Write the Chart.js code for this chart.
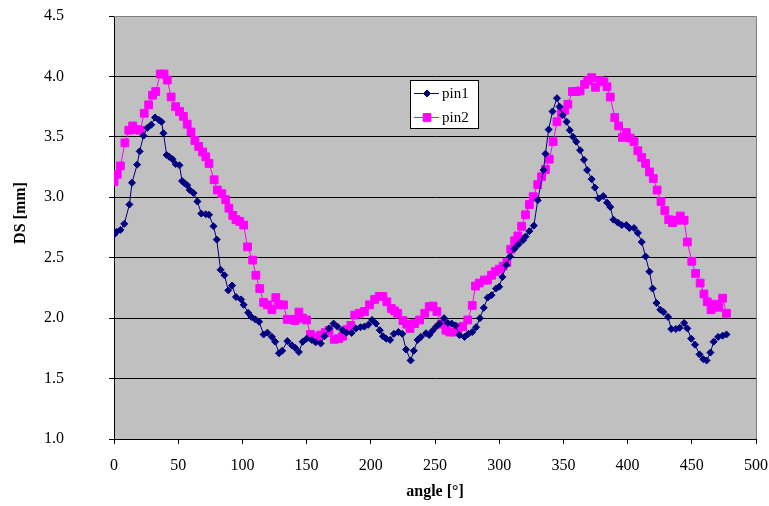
<!DOCTYPE html>
<html>
<head>
<meta charset="utf-8">
<script src="https://cdn.jsdelivr.net/npm/chart.js@4.4.1/dist/chart.umd.min.js"></script>
<style>
  html, body { margin: 0; padding: 0; background: #ffffff; }
  #wrap { width: 769px; height: 506px; position: relative; }
</style>
</head>
<body>
<div id="wrap"><canvas id="chart" width="769" height="506"></canvas></div>
<script>
// Measured displacement per angle, two pins
const angles1 = [0, 2, 5, 8, 12, 14, 18, 20, 23, 26, 29, 32, 35, 37, 38.5, 41, 43, 45.5, 48, 51,
  53, 55, 57, 59, 62, 65, 68, 71.5, 74, 77.5, 80, 83, 86, 89, 92, 95, 99, 101, 104.5, 107,
  110, 113, 116.5, 119.5, 123, 125.5, 128.5, 131, 135, 138.5, 141, 144, 147, 150, 154, 157, 161, 164, 167.5, 171,
  174, 178, 181, 185, 188.5, 192, 195, 198, 201, 204, 207, 209.5, 212, 215, 218, 221.5, 224.5, 227.5, 231, 233.5,
  236.5, 239, 243, 245.5, 248, 251, 253.5, 257, 260, 263, 266, 269, 273, 276, 279, 282, 285, 288, 291, 294,
  297.5, 300, 302.5, 305.5, 308.5, 312, 315, 318.5, 320.5, 323.5, 327, 330, 334.5, 336, 338.5, 341.5, 345, 347, 349.5, 352.5,
  355, 357.5, 360, 363, 366, 368.5, 372, 374.5, 377.5, 381, 384, 386.5, 389, 392.5, 395.5, 399, 401.5, 405, 408, 411,
  414, 417, 419.5, 422.5, 425.5, 428, 431.5, 434, 437.5, 440.5, 444, 446.5, 449.5, 452.5, 456, 459, 461.5, 464.5, 467, 470.5,
  474, 477];
const pin1 = [2.69, 2.715, 2.73, 2.78, 2.94, 3.12, 3.27, 3.38, 3.51, 3.575, 3.60, 3.66, 3.64, 3.625, 3.53, 3.35, 3.335, 3.315, 3.275, 3.265,
  3.135, 3.115, 3.10, 3.06, 3.035, 2.965, 2.865, 2.86, 2.855, 2.76, 2.65, 2.40, 2.355, 2.23, 2.27, 2.175, 2.155, 2.11, 2.045, 2.01,
  1.99, 1.97, 1.865, 1.88, 1.845, 1.805, 1.71, 1.73, 1.81, 1.775, 1.755, 1.72, 1.805, 1.83, 1.82, 1.80, 1.79, 1.85, 1.915, 1.955,
  1.93, 1.90, 1.88, 1.878, 1.915, 1.925, 1.93, 1.945, 1.985, 1.955, 1.90, 1.85, 1.83, 1.82, 1.87, 1.885, 1.87, 1.74, 1.65, 1.73,
  1.82, 1.845, 1.875, 1.86, 1.895, 1.93, 1.955, 2.00, 1.96, 1.955, 1.94, 1.86, 1.845, 1.87, 1.885, 1.925, 2.00, 2.085, 2.17, 2.19,
  2.245, 2.26, 2.34, 2.44, 2.51, 2.575, 2.61, 2.645, 2.675, 2.72, 2.765, 2.975, 3.225, 3.36, 3.56, 3.71, 3.82, 3.75, 3.68, 3.625,
  3.555, 3.50, 3.46, 3.39, 3.31, 3.225, 3.15, 3.08, 2.99, 3.01, 2.955, 2.92, 2.815, 2.79, 2.77, 2.77, 2.745, 2.745, 2.705, 2.63,
  2.51, 2.385, 2.245, 2.125, 2.07, 2.05, 2.01, 1.91, 1.91, 1.92, 1.96, 1.915, 1.83, 1.78, 1.70, 1.66, 1.65, 1.715, 1.805, 1.845,
  1.855, 1.865];

const angles2 = [0, 2.5, 5, 8.5, 11.5, 14.5, 17.5, 20.5, 23.5, 27, 30, 32.5, 36, 39, 41.5, 44.5, 48, 51, 54, 57,
  60, 63, 66, 69, 71.5, 74, 78, 80.5, 84, 87, 89.5, 92.5, 95, 98, 101, 104, 108, 110.5, 113.5, 116.5,
  119.5, 123, 126, 128.5, 132, 135, 138, 141, 144, 147, 150, 153, 156, 158.5, 161, 164.5, 167.5, 171.5, 175, 178,
  181.5, 184.5, 187.5, 191, 195, 199, 203, 206.5, 209.5, 212.5, 216, 218.5, 221, 225, 228, 230.5, 234, 238, 242, 245.5,
  248.5, 251.5, 255, 258.5, 261.5, 264.5, 268, 271.5, 275.5, 279, 281.5, 284.5, 288.5, 291, 294, 297, 300, 303, 306, 309,
  312, 314.5, 317.5, 320.5, 323.5, 326.5, 330, 333, 336, 339, 342, 345, 348.5, 351, 353.5, 357, 360, 363, 366.5, 369,
  372, 375, 378.5, 381.5, 384, 386.5, 390, 393, 396, 399, 402, 405, 408, 411, 414, 417, 420, 423, 426, 429,
  432, 435, 438, 441, 444, 446.5, 450, 453, 456.5, 459.5, 462, 465, 468, 471, 474, 477];
const pin2 = [3.13, 3.19, 3.26, 3.45, 3.555, 3.59, 3.56, 3.555, 3.695, 3.765, 3.845, 3.875, 4.02, 4.02, 3.97, 3.83, 3.75, 3.71, 3.67, 3.605,
  3.54, 3.47, 3.42, 3.375, 3.335, 3.28, 3.145, 3.06, 3.03, 2.98, 2.91, 2.85, 2.815, 2.80, 2.77, 2.59, 2.48, 2.355, 2.245, 2.13,
  2.11, 2.07, 2.17, 2.11, 2.11, 1.99, 1.99, 1.98, 2.05, 2.00, 1.985, 1.865, 1.845, 1.83, 1.86, 1.88, 1.90, 1.825, 1.83, 1.85,
  1.905, 1.94, 2.025, 2.04, 2.055, 2.11, 2.155, 2.18, 2.18, 2.135, 2.08, 2.06, 2.04, 1.98, 1.95, 1.915, 1.955, 1.985, 2.04, 2.095,
  2.10, 2.055, 1.95, 1.90, 1.885, 1.885, 1.915, 1.93, 1.985, 2.105, 2.265, 2.29, 2.315, 2.315, 2.355, 2.385, 2.405, 2.43, 2.46, 2.57,
  2.64, 2.68, 2.76, 2.855, 2.94, 3.005, 3.105, 3.17, 3.23, 3.315, 3.46, 3.625, 3.695, 3.72, 3.77, 3.875, 3.875, 3.88, 3.935, 3.965,
  3.99, 3.91, 3.965, 3.955, 3.915, 3.83, 3.66, 3.59, 3.495, 3.535, 3.49, 3.46, 3.385, 3.33, 3.28, 3.21, 3.155, 3.06, 2.965, 2.89,
  2.815, 2.79, 2.81, 2.845, 2.81, 2.63, 2.47, 2.37, 2.29, 2.20, 2.135, 2.07, 2.115, 2.09, 2.165, 2.04];

const seriesNames = ['pin1', 'pin2'];
const xTicks = [0, 50, 100, 150, 200, 250, 300, 350, 400, 450, 500];
const yTicks = [1.0, 1.5, 2.0, 2.5, 3.0, 3.5, 4.0, 4.5];
const xTitle = 'angle [°]';
const yTitle = 'DS [mm]';

const serif = "'Liberation Serif', 'Times New Roman', serif";
const colNavy = '#000080';
const colMagenta = '#FF00FF';

function pairs(xs, ys) { return xs.map((x, i) => ({ x: x, y: ys[i] })); }

// Grey plot area, frame, axis titles and the boxed legend
const decor = {
  id: 'decor',
  beforeDraw(chart) {
    const { ctx, chartArea: a } = chart;
    ctx.save();
    ctx.fillStyle = '#C0C0C0';
    ctx.fillRect(a.left, a.top, a.right - a.left, a.bottom - a.top);
    ctx.restore();
  },
  afterDraw(chart) {
    const { ctx, chartArea: a } = chart;
    ctx.save();
    // frame on top/right
    ctx.strokeStyle = '#808080';
    ctx.lineWidth = 1;
    ctx.beginPath();
    ctx.moveTo(a.left, a.top + 0.5);
    ctx.lineTo(a.right + 0.5, a.top + 0.5);
    ctx.lineTo(a.right + 0.5, a.bottom);
    ctx.stroke();

    // axis titles
    ctx.fillStyle = '#000';
    ctx.font = 'bold 16px ' + serif;
    ctx.textAlign = 'center';
    ctx.textBaseline = 'middle';
    ctx.fillText(xTitle, (a.left + a.right) / 2, 492);
    ctx.save();
    ctx.translate(21, 213);
    ctx.rotate(-Math.PI / 2);
    ctx.fillText(yTitle, 0, 0);
    ctx.restore();

    // legend
    const lx = 410, ly = 80, lw = 68, lh = 48;
    ctx.fillStyle = '#ffffff';
    ctx.fillRect(lx, ly, lw, lh);
    ctx.strokeStyle = '#000';
    ctx.strokeRect(lx + 0.5, ly + 0.5, lw, lh);
    const rows = [
      { y: 93, color: colNavy, style: 'rectRot', r: 3.5 },
      { y: 117, color: colMagenta, style: 'rect', r: 5.5 }
    ];
    ctx.font = '15px ' + serif;
    ctx.textAlign = 'left';
    rows.forEach((row, i) => {
      ctx.strokeStyle = row.color;
      ctx.lineWidth = 1;
      ctx.beginPath();
      ctx.moveTo(414, row.y + 0.5);
      ctx.lineTo(439, row.y + 0.5);
      ctx.stroke();
      ctx.fillStyle = row.color;
      Chart.helpers.drawPoint(ctx, { pointStyle: row.style, radius: row.r, borderWidth: 1 }, 427, row.y + 0.5);
      ctx.fillStyle = '#000';
      ctx.fillText(seriesNames[i], 442, row.y + 1);
    });
    ctx.restore();
  }
};

new Chart(document.getElementById('chart'), {
  type: 'scatter',
  data: {
    datasets: [
      {
        label: seriesNames[0],
        data: pairs(angles1, pin1),
        showLine: true,
        borderColor: colNavy,
        backgroundColor: colNavy,
        borderWidth: 1,
        pointStyle: 'rectRot',
        pointRadius: 3.5,
        pointBorderWidth: 1,
        tension: 0
      },
      {
        label: seriesNames[1],
        data: pairs(angles2, pin2),
        showLine: true,
        borderColor: colMagenta,
        backgroundColor: colMagenta,
        borderWidth: 1,
        pointStyle: 'rect',
        pointRadius: 5.5,
        pointBorderWidth: 1,
        tension: 0
      }
    ]
  },
  options: {
    responsive: false,
    animation: false,
    layout: { padding: { top: 16, right: 13, left: 0, bottom: 0 } },
    plugins: { legend: { display: false }, tooltip: { enabled: false } },
    scales: {
      x: {
        type: 'linear',
        min: xTicks[0],
        max: xTicks[xTicks.length - 1],
        afterBuildTicks: s => { s.ticks = xTicks.map(v => ({ value: v })); },
        afterFit: s => { s.height = 67; s.paddingLeft = 0; s.paddingRight = 0; },
        ticks: { color: '#000', font: { family: serif, size: 16 }, padding: 12, maxRotation: 0 },
        grid: { display: true, drawOnChartArea: false, drawTicks: true, tickLength: 5, color: '#000' },
        border: { color: '#000', width: 1 }
      },
      y: {
        type: 'linear',
        min: yTicks[0],
        max: yTicks[yTicks.length - 1],
        afterBuildTicks: s => { s.ticks = yTicks.map(v => ({ value: v })); },
        afterFit: s => { s.width = 114; s.paddingTop = 0; s.paddingBottom = 0; },
        ticks: { color: '#000', font: { family: serif, size: 16 }, padding: 45, callback: v => Number(v).toFixed(1) },
        grid: { display: true, drawOnChartArea: true, drawTicks: true, tickLength: 5, color: '#000' },
        border: { color: '#000', width: 1 }
      }
    }
  },
  plugins: [decor]
});
</script>
</body>
</html>
